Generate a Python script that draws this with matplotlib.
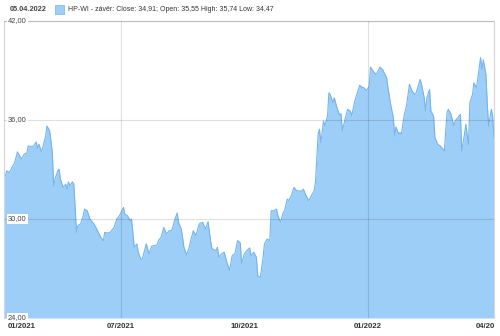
import matplotlib
matplotlib.use("Agg")
import matplotlib.pyplot as plt
import matplotlib.patches as mpatches
import pandas as pd
import numpy as np

plt.rcParams['font.family'] = ['Liberation Sans', 'DejaVu Sans']

start_date = "2021-04-05"
end_date = "2022-04-05"
# day offsets from start_date and close prices
days = [0, 2, 4, 6, 8, 10, 13, 15, 17, 18, 21, 22, 24, 25, 26, 28, 31, 32, 34, 36,
        37, 38, 40, 41, 42, 44, 46, 47, 48, 49, 51, 52, 54, 55, 57, 59, 60, 62, 64, 67,
        69, 72, 74, 75, 77, 79, 82, 84, 86, 89, 90, 92, 94, 95, 96, 97, 99, 100, 102, 103,
        105, 106, 108, 110, 112, 114, 115, 117, 119, 121, 123, 125, 127, 129, 130, 132, 133, 134, 136, 138,
        139, 141, 143, 145, 146, 148, 150, 152, 154, 155, 158, 159, 160, 162, 164, 166, 168, 170, 172, 174,
        176, 177, 179, 181, 183, 184, 186, 188, 189, 191, 193, 194, 196, 198, 199, 201, 203, 204, 206, 208,
        209, 211, 212, 214, 216, 218, 220, 221, 223, 225, 227, 229, 231, 232, 234, 235, 236, 238, 239, 241,
        242, 243, 245, 246, 248, 250, 251, 252, 254, 256, 258, 259, 261, 262, 265, 267, 268, 270, 272, 273,
        275, 277, 278, 280, 282, 285, 286, 288, 290, 291, 292, 294, 295, 296, 298, 300, 302, 304, 306, 307,
        310, 311, 313, 314, 315, 317, 318, 320, 321, 323, 325, 328, 330, 331, 333, 335, 336, 338, 340, 341,
        343, 344, 346, 347, 349, 350, 352, 353, 355, 356, 357, 359, 360, 361, 363, 364, 365]
close = [32.31, 32.92, 32.82, 33.12, 33.43, 34.07, 33.63, 33.93, 33.99, 34.43, 34.39, 34.43, 34.67, 34.27, 34.53, 34.07, 35.03, 35.64, 35.34, 34.03,
         32.01, 32.42, 32.92, 33.02, 32.42, 31.92, 32.11, 31.81, 32.25, 32.01, 32.25, 32.11, 29.20, 29.60, 29.70, 30.20, 30.60, 30.50, 30.00, 29.70,
         29.40, 28.90, 28.69, 29.19, 29.15, 29.19, 29.49, 30.00, 30.20, 30.70, 30.30, 30.20, 29.90, 30.00, 29.19, 28.29, 28.49, 27.99, 27.54, 27.58,
         28.19, 28.49, 27.89, 28.35, 28.39, 28.43, 28.69, 28.89, 29.49, 29.09, 29.29, 29.29, 29.90, 30.36, 29.80, 29.40, 28.89, 28.29, 27.82, 28.29,
         28.69, 29.29, 28.99, 29.60, 29.75, 29.80, 29.40, 29.84, 28.59, 28.19, 28.09, 28.29, 27.69, 27.89, 27.99, 27.38, 26.88, 27.79, 27.89, 28.69,
         28.55, 27.28, 27.89, 28.09, 28.25, 27.79, 27.99, 27.69, 26.54, 26.48, 27.69, 28.49, 28.79, 28.69, 30.50, 30.50, 30.60, 30.20, 29.80, 30.40,
         30.50, 31.21, 31.11, 31.41, 31.92, 31.71, 31.71, 31.66, 31.81, 31.41, 31.11, 31.41, 31.71, 32.22, 35.14, 35.44, 34.63, 35.94, 35.64, 36.24,
         37.65, 37.55, 37.05, 37.35, 36.75, 36.30, 36.39, 35.34, 36.04, 36.65, 36.54, 36.24, 37.05, 37.35, 38.11, 37.96, 37.96, 37.79, 38.05, 39.20,
         38.96, 38.76, 38.86, 39.20, 39.06, 38.56, 37.96, 36.95, 36.15, 35.03, 35.58, 35.14, 35.24, 35.14, 36.24, 36.95, 38.16, 37.75, 37.55, 37.65,
         38.46, 38.16, 37.35, 36.54, 37.35, 37.85, 36.54, 36.24, 34.94, 34.53, 34.43, 34.13, 36.45, 36.65, 36.34, 35.64, 35.94, 36.14, 36.34, 34.13,
         35.14, 35.74, 34.53, 37.05, 37.55, 38.26, 37.96, 38.56, 39.78, 39.06, 39.65, 38.76, 36.95, 35.64, 36.65, 36.24, 34.91]

y_ticks = [24, 30, 36, 42]
y_labels = ["24,00", "30,00", "36,00", "42,00"]
x_tick_dates = ["2021-07-01", "2021-10-01", "2022-01-01", "2022-04-01"]
x_tick_labels = ["07/2021", "10/2021", "01/2022", "04/20"]
first_label = "01/2021"
v_grid_dates = ["2021-07-01", "2022-01-01"]
header_date = "05.04.2022"
legend_text = "HP-WI - závěr: Close: 34,91; Open: 35,55 High: 35,74 Low: 34,47"

dates = pd.Timestamp(start_date) + pd.to_timedelta(days, unit="D")

fill_col = "#9dcef7"
line_col = "#74b5ec"
grid_col = "#d6d6d6"

fig = plt.figure(figsize=(5.0, 3.36), dpi=100)
ax = fig.add_axes([4/500, 1 - 318/336, 490/500, 297/336])
ax.fill_between(dates, close, 24, color=fill_col, lw=0, zorder=1)
ax.plot(dates, close, color=line_col, lw=0.8, zorder=2)
ax.set_xlim(pd.Timestamp(start_date), pd.Timestamp(end_date))
ax.set_ylim(24, 42)

for yv in y_ticks[1:]:
    ax.axhline(yv, color=(0, 0, 0, 0.12), lw=0.8, zorder=3)
for d in v_grid_dates:
    ax.axvline(pd.Timestamp(d), color=(0, 0, 0, 0.12), lw=0.8, zorder=3)

ax.set_xticks([])
ax.set_yticks([])
for s in ["left", "right", "top"]:
    ax.spines[s].set_color(grid_col)
    ax.spines[s].set_linewidth(0.8)
ax.spines["bottom"].set_visible(False)

# y labels
for yv, lab in zip(y_ticks, y_labels):
    ax.text(0.008, yv, lab, transform=ax.get_yaxis_transform(), ha="left", va="center",
            fontsize=5.4, color="#444444", zorder=5,
            bbox=dict(boxstyle="square,pad=0.15", fc="white", ec="none"))

# x labels
ylab = 1 - 326/336
fig.text(8/500, ylab, first_label, ha="left", va="center", fontsize=5.6, fontweight="bold", color="#333333")
for d, lab in zip(x_tick_dates[:-1], x_tick_labels[:-1]):
    xd = ax.transData.transform((matplotlib.dates.date2num(pd.Timestamp(d)), 24))[0]
    fig.text(xd / fig.dpi / 5.0, ylab, lab, ha="center", va="center", fontsize=5.6,
             fontweight="bold", color="#333333")
fig.text(495/500, ylab, x_tick_labels[-1], ha="right", va="center", fontsize=5.6,
         fontweight="bold", color="#333333")

# header
hy = 1 - 9.5/336
fig.text(10/500, hy, header_date, ha="left", va="center", fontsize=5.3, fontweight="bold", color="#444444")
fig.patches.append(mpatches.Rectangle((55/500, 1 - 14/336), 9/500, 9/336, transform=fig.transFigure,
                                      fc=fill_col, ec=line_col, lw=0.5))
fig.text(68/500, hy, legend_text, ha="left", va="center", fontsize=5.0, color="#333333")

fig.savefig("out.png", dpi=100, facecolor="white")
